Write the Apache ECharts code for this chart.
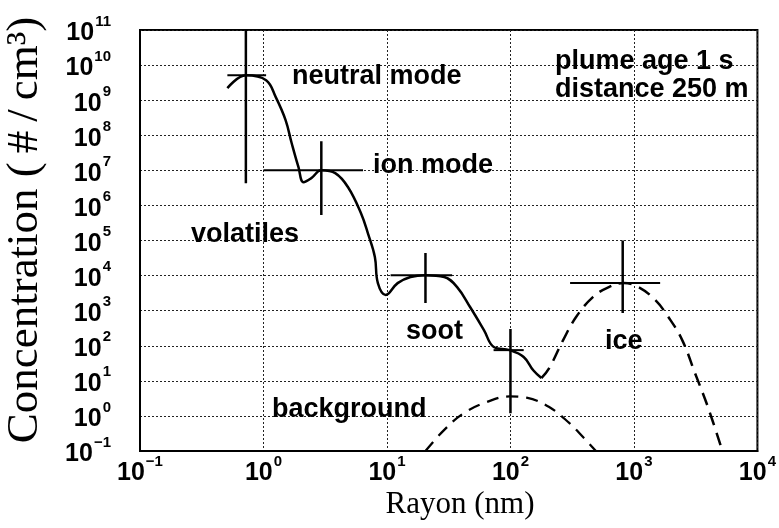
<!DOCTYPE html>
<html>
<head>
<meta charset="utf-8">
<script src="https://cdn.jsdelivr.net/npm/echarts@6/dist/echarts.min.js"></script>
<style>html,body{margin:0;padding:0;background:#fff;}#c{width:779px;height:528px;}</style>
</head>
<body>
<div id="c"></div>
<script>
// ---- data (radius nm, concentration #/cm3) ----
const xTickExps = [-1, 0, 1, 2, 3, 4];
const yTickExps = [-1, 0, 1, 2, 3, 4, 5, 6, 7, 8, 9, 10, 11];

const solidR = [0.51, 0.72, 1.05, 1.26, 1.51, 1.69, 1.92, 2.11, 2.44, 2.94, 3.81, 4.84, 6.16, 7.01, 7.98, 8.44, 9.77, 12.2, 15.5, 20.5, 29.1, 37.0, 47.1, 61.0, 73.3, 98.6, 128, 153, 178];
const solidC = [2.2e9, 5.1e9, 3.7e9, 1.2e9, 2.7e8, 6.0e7, 1.23e7, 4.6e6, 6.0e6, 1.0e7, 8.3e6, 3.3e6, 6.0e5, 1.6e5, 3.4e4, 6.1e3, 2.8e3, 6.1e3, 9.1e3, 1.03e4, 9.1e3, 4.7e3, 1.27e3, 280, 92, 75, 48, 20, 12];

const iceR = [178, 206, 267, 340, 465, 626, 826, 1090, 1490, 1900, 2460, 3120, 3970, 5200];
const iceC = [12, 23, 145, 658, 2440, 4700, 6100, 4700, 2000, 658, 145, 16.7, 1.8, 0.1];

const bgR = [20.5, 29.1, 42.1, 64.4, 98.6, 135, 206, 299, 387, 492];
const bgC = [0.1, 0.40, 1.21, 2.49, 3.6, 3.3, 1.79, 0.63, 0.25, 0.1];

// crosses: [centre R, centre C, R low, R high, C low, C high]
const crossR   = [0.72, 2.94, 20.5, 100, 811];
const crossC   = [5.1e9, 1.0e7, 1.03e4, 75, 6100];
const crossRlo = [0.51, 1.0, 10.7, 73, 304];
const crossRhi = [1.05, 6.4, 33.7, 128, 1630];
const crossClo = [4.3e6, 5.3e5, 1650, 1.2, 855];
const crossChi = [1e11, 6.8e7, 4.4e4, 300, 1.0e5];

const annotations = ['neutral mode', 'ion mode', 'plume age 1 s', 'distance 250 m', 'volatiles', 'soot', 'ice', 'background'];
// ------------------------------------------------

const zip = (a, b) => a.map((v, i) => [v, b[i]]);
const fmtExp = e => (e < 0 ? '\u2212' + (-e) : String(e));
const labelFmt = v => {
  const e = Math.round(Math.log10(v));
  return '{b|10}{s|' + fmtExp(e) + '}';
};
const richLbl = {
  b: { fontFamily: 'Liberation Sans', fontWeight: 'bold', fontSize: 25, color: '#000', lineHeight: 32, verticalAlign: 'bottom' },
  s: { fontFamily: 'Liberation Sans', fontWeight: 'bold', fontSize: 15, color: '#000', lineHeight: 14, verticalAlign: 'top', padding: [0, 0, 0, 1] }
};

const series = [];
series.push({
  type: 'line', data: zip(solidR, solidC), smooth: 0.4, symbol: 'none',
  lineStyle: { color: '#000', width: 2.5 }, z: 5
});
series.push({
  type: 'line', data: zip(iceR, iceC), smooth: 0.4, symbol: 'none',
  lineStyle: { color: '#000', width: 2.5, type: [13, 8] }, z: 5
});
series.push({
  type: 'line', data: zip(bgR, bgC), smooth: 0.4, symbol: 'none',
  lineStyle: { color: '#000', width: 2.3, type: [12, 8] }, z: 5
});
crossR.forEach((r, i) => {
  series.push({
    type: 'line', symbol: 'none', data: [[crossRlo[i], crossC[i]], [crossRhi[i], crossC[i]]],
    lineStyle: { color: '#000', width: 2 }, z: 6
  });
  series.push({
    type: 'line', symbol: 'none', data: [[r, crossClo[i]], [r, crossChi[i]]],
    lineStyle: { color: '#000', width: 2.5 }, z: 6
  });
});

const annPos = [[292, 77], [373, 166], [555, 62], [555, 90], [191, 235], [406, 332], [605, 342], [272, 410]];
const graphic = annotations.map((t, i) => ({
  type: 'text', x: annPos[i][0], y: annPos[i][1], z: 20,
  style: { text: t, font: 'bold 27px "Liberation Sans"', fill: '#000', textAlign: 'left', textVerticalAlign: 'middle' }
}));
graphic.push({
  type: 'text', x: 460, y: 505, z: 20,
  style: { text: 'Rayon (nm)', font: '31px "Liberation Serif"', fill: '#000', textAlign: 'center', textVerticalAlign: 'middle' }
});
graphic.push({
  type: 'text', x: 25, y: 230, rotation: Math.PI / 2, z: 20,
  style: { text: 'Concentration (\u2009#\u2009/\u2009cm\u00B3)', font: '45px "Liberation Serif"', fill: '#000', textAlign: 'center', textVerticalAlign: 'middle' }
});

const chart = echarts.init(document.getElementById('c'), null, { renderer: 'canvas' });
chart.setOption({
  animation: false,
  backgroundColor: '#fff',
  grid: { left: 140, top: 30, right: 16, bottom: 77, show: true, borderColor: '#000', borderWidth: 2 },
  xAxis: {
    type: 'log', logBase: 10, min: Math.pow(10, xTickExps[0]), max: Math.pow(10, xTickExps[xTickExps.length - 1]),
    interval: 1,
    axisLine: { show: true, lineStyle: { color: '#000', width: 2 } },
    axisTick: { show: false },
    splitLine: { show: true, lineStyle: { color: '#222', width: 1, type: [2, 2] } },
    axisLabel: { formatter: labelFmt, rich: richLbl, margin: 3, showMinLabel: true, showMaxLabel: true, interval: 0 }
  },
  yAxis: {
    type: 'log', logBase: 10, min: Math.pow(10, yTickExps[0]), max: Math.pow(10, yTickExps[yTickExps.length - 1]),
    interval: 1,
    axisLine: { show: true, lineStyle: { color: '#000', width: 2 } },
    axisTick: { show: false },
    splitLine: { show: true, lineStyle: { color: '#222', width: 1, type: [2, 2] } },
    axisLabel: { formatter: labelFmt, rich: richLbl, margin: 29, showMinLabel: true, showMaxLabel: true, interval: 0 }
  },
  series: series,
  graphic: graphic
});
</script>
</body>
</html>
